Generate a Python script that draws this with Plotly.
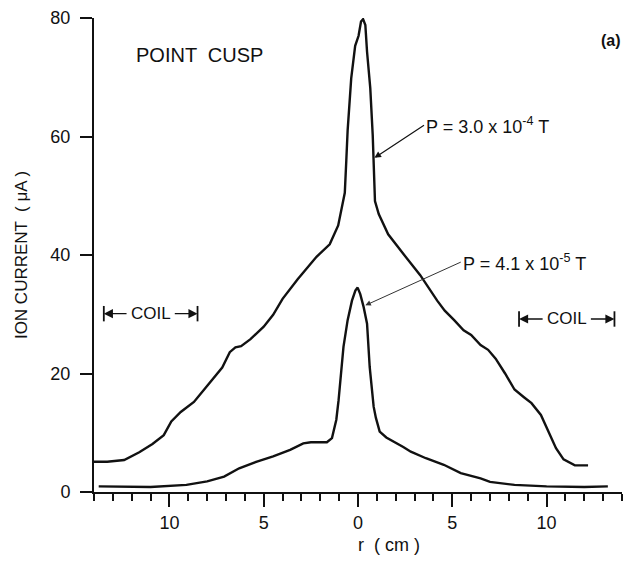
import plotly.graph_objects as go

# Upper curve: P = 3.0e-4 T
r_high = [-14.0, -13.3, -12.4, -11.6, -10.9, -10.3, -9.9, -9.4, -8.7, -8.2, -7.7, -7.2,
          -6.8, -6.5, -6.2, -5.7, -5.0, -4.5, -4.0, -3.2, -2.2, -1.5, -1.05, -0.85, -0.7,
          -0.62, -0.55, -0.36, -0.15, 0.03, 0.16, 0.27, 0.39, 0.48, 0.65, 0.78, 0.9, 1.1,
          1.6, 2.4, 3.3, 4.2, 4.6, 5.1, 5.6, 6.0, 6.5, 6.9, 7.3, 7.8, 8.3, 8.8, 9.2, 9.7,
          10.1, 10.5, 10.9, 11.5, 12.2]
i_high = [5.1, 5.1, 5.4, 6.7, 8.1, 9.6, 11.9, 13.5, 15.2, 17.2, 19.2, 21.0,
          23.6, 24.4, 24.6, 25.8, 27.9, 29.9, 32.6, 35.9, 39.7, 41.8, 45.0, 48.0, 50.5,
          56.0, 61.0, 69.8, 75.3, 77.0, 79.4, 79.8, 78.8, 74.3, 68.2, 60.3, 49.1, 46.9,
          43.5, 40.2, 36.6, 32.3, 30.6, 29.0, 27.3, 26.5, 24.8, 24.0, 22.5, 20.0, 17.3,
          16.0, 15.0, 13.0, 10.2, 7.4, 5.5, 4.5, 4.5]

# Lower curve: P = 4.1e-5 T
r_low = [-13.75, -12.0, -11.0, -9.1, -8.0, -7.1, -6.3, -5.4, -4.5, -3.6, -2.9, -2.5,
         -1.65, -1.38, -1.15, -1.03, -0.92, -0.77, -0.55, -0.32, -0.14, -0.02, 0.12, 0.3,
         0.48, 0.62, 0.83, 0.95, 1.15, 1.5, 2.4, 2.8, 3.6, 4.55, 5.45, 6.0, 6.5, 7.0,
         8.3, 10.0, 12.0, 13.25]
i_low = [0.95, 0.9, 0.85, 1.2, 1.8, 2.6, 4.0, 5.1, 6.0, 7.1, 8.2, 8.4,
         8.4, 9.1, 12.2, 15.5, 18.9, 24.5, 29.0, 32.3, 34.0, 34.5, 33.4, 31.2,
         28.4, 21.1, 14.4, 12.5, 10.2, 9.2, 7.6, 6.8, 5.7, 4.6, 3.2, 2.7, 2.3, 1.7,
         1.2, 0.95, 0.85, 0.95]

x_tickvals = [-10, -5, 0, 5, 10]
x_ticktext = ["10", "5", "0", "5", "10"]
y_tickvals = [0, 20, 40, 60, 80]

coil_left = [-13.48, -8.51]
coil_right = [8.54, 13.6]
coil_y = [30.1, 29.2]

FONT = "Liberation Sans"
INK = "#111111"

fig = go.Figure()
fig.add_trace(go.Scatter(x=r_high, y=i_high, mode="lines",
                         line=dict(color=INK, width=2.4), showlegend=False,
                         hoverinfo="skip"))
fig.add_trace(go.Scatter(x=r_low, y=i_low, mode="lines",
                         line=dict(color=INK, width=2.4), showlegend=False,
                         hoverinfo="skip"))

anns = []
shapes = []
# COIL markers: bars, arrows and label
for (a, b), yv in zip([coil_left, coil_right], coil_y):
    for xv in (a, b):
        shapes.append(dict(type="line", xref="x", yref="y", x0=xv, x1=xv,
                           y0=yv - 1.3, y1=yv + 1.3, line=dict(color=INK, width=1.8)))
    mid = (a + b) / 2
    anns.append(dict(x=mid, y=yv, xref="x", yref="y", text="COIL", showarrow=False,
                     font=dict(size=17, color=INK, family=FONT), xanchor="center",
                     yanchor="middle"))
    for tail, head in ((mid - 1.2, a), (mid + 1.2, b)):
        anns.append(dict(x=head, y=yv, ax=tail, ay=yv, xref="x", yref="y", axref="x",
                         ayref="y", text="", showarrow=True, arrowhead=2,
                         arrowsize=1.3, arrowwidth=1.4, arrowcolor=INK))

# Pressure labels with arrows
anns.append(dict(x=0.87, y=56.4, ax=3.5, ay=61.9, xref="x", yref="y", axref="x",
                 ayref="y", text="P = 3.0 x 10<sup>-4</sup> T", showarrow=True,
                 arrowhead=2, arrowsize=1.1, arrowwidth=1.2, arrowcolor=INK,
                 xanchor="left", yanchor="middle",
                 font=dict(size=18, color=INK, family=FONT)))
anns.append(dict(x=0.39, y=31.5, ax=5.45, ay=38.8, xref="x", yref="y", axref="x",
                 ayref="y", text="P = 4.1 x 10<sup>-5</sup> T", showarrow=True,
                 arrowhead=2, arrowsize=1.1, arrowwidth=1.0, arrowcolor="#333333",
                 xanchor="left", yanchor="middle",
                 font=dict(size=18, color=INK, family=FONT)))
anns.append(dict(x=-8.39, y=73.8, xref="x", yref="y", text="POINT  CUSP",
                 showarrow=False, xanchor="center", yanchor="middle",
                 font=dict(size=20, color=INK, family=FONT)))
anns.append(dict(x=13.4, y=76.2, xref="x", yref="y", text="<b>(a)</b>",
                 showarrow=False, xanchor="center", yanchor="middle",
                 font=dict(size=16, color=INK, family=FONT)))
anns.append(dict(x=1.66, y=-0.111, xref="x", yref="paper", text="r  ( cm )",
                 showarrow=False, xanchor="center", yanchor="middle",
                 font=dict(size=18, color=INK, family=FONT)))

fig.update_layout(
    width=630, height=561,
    margin=dict(l=94, r=8, t=16, b=69),
    paper_bgcolor="white", plot_bgcolor="white",
    font=dict(family=FONT, color=INK),
    annotations=anns, shapes=shapes,
    xaxis=dict(range=[-14, 14], showgrid=False, zeroline=False, showline=True,
               linecolor=INK, linewidth=2, ticks="outside", ticklen=13, tickwidth=1.8,
               tickcolor=INK, tickvals=x_tickvals, ticktext=x_ticktext,
               tickfont=dict(size=18, color=INK, family=FONT),
               minor=dict(tick0=-14, dtick=1, ticks="outside", ticklen=7,
                          tickwidth=1.5, tickcolor=INK, showgrid=False)),
    yaxis=dict(range=[0, 80], showgrid=False, zeroline=False, showline=True,
               linecolor=INK, linewidth=2, ticks="outside", ticklen=12, tickwidth=1.5,
               tickcolor=INK, tickvals=y_tickvals, ticklabelstandoff=6,
               tickfont=dict(size=18, color=INK, family=FONT),
               title=dict(text="ION CURRENT  ( \u03bcA )", standoff=18,
                          font=dict(size=17, color=INK, family=FONT))),
)

fig.write_html("out.html")
